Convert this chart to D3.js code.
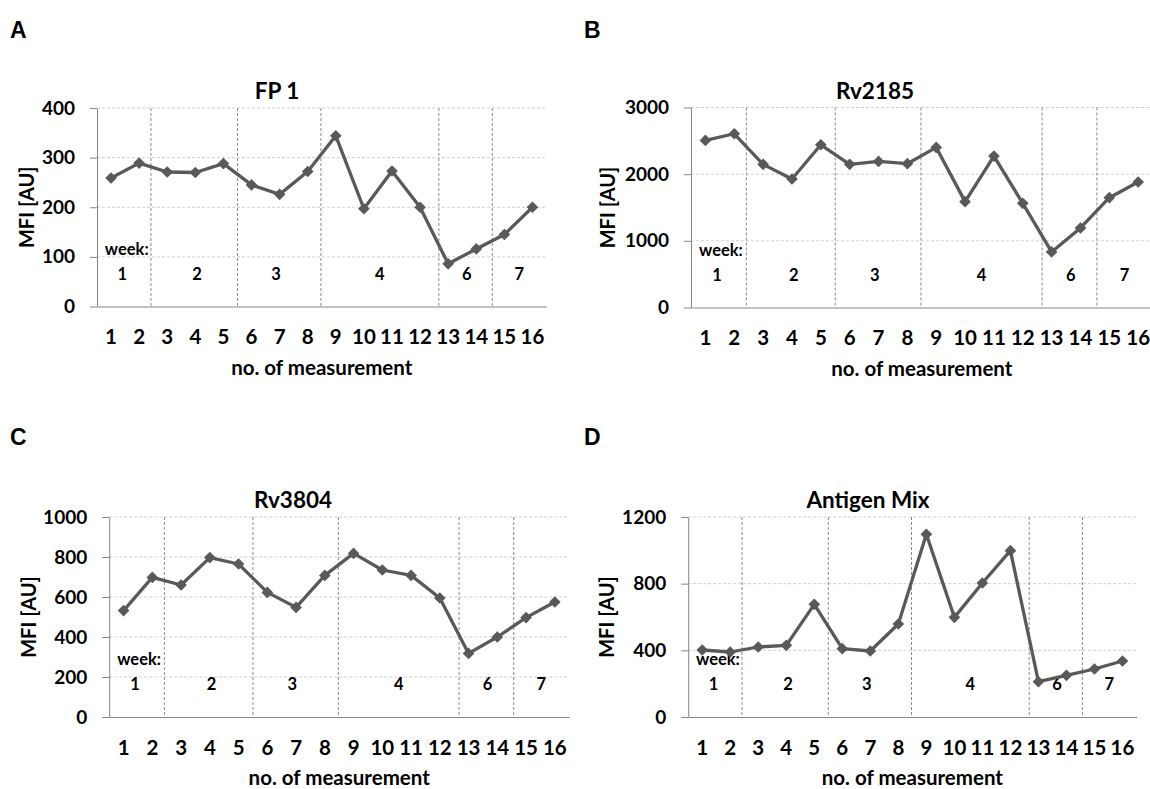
<!DOCTYPE html>
<html>
<head>
<meta charset="utf-8">
<script src="https://cdn.jsdelivr.net/npm/d3@7"></script>
<style>
body { margin: 0; background: #fff; }
text { font-family: Lato, "Open Sans", sans-serif; font-weight: bold; fill: #000; }
</style>
</head>
<body>
<svg width="1150" height="789"></svg>
<script>
// x categories (no. of measurement)
var measurements = ["1","2","3","4","5","6","7","8","9","10","11","12","13","14","15","16"];

// MFI values
var fp1 = [259, 289, 271, 270, 288, 245, 226, 272, 344, 197, 273, 200, 86, 116, 145, 200];
var rv2185 = [2506, 2606, 2147, 1927, 2441, 2147, 2191, 2157, 2401, 1588, 2271, 1563, 834, 1193, 1647, 1882];
var rv3804 = [532, 698, 660, 797, 765, 623, 548, 708, 818, 735, 708, 595, 318, 400, 497, 575];
var antigenMix = [402, 390, 420, 430, 676, 410, 396, 558, 1096, 598, 804, 998, 212, 250, 288, 336];

// week annotation, in units of measurement slots (0 = left edge of the plot)
var weekBreaks = [1.92, 5.0, 7.97, 12.17, 14.07];
var weekNames = ["1", "2", "3", "4", "6", "7"];
var weekCenters = [0.9, 3.56, 6.37, 10.07, 13.16, 15.03];

// panel layout, the data comes from the arrays above
var panels = [
	{ letter: "A", title: "FP 1", values: fp1, yMax: 400, yStep: 100,
	  left: 97, right: 546.5, top: 108, bottom: 306.5, titleX: 277, letterX: 10, letterY: 38, yLabelX: 26 },
	{ letter: "B", title: "Rv2185", values: rv2185, yMax: 3000, yStep: 1000,
	  left: 691, right: 1152.6, top: 107.5, bottom: 307.5, titleX: 875, letterX: 584, letterY: 38, yLabelX: 607 },
	{ letter: "C", title: "Rv3804", values: rv3804, yMax: 1000, yStep: 200,
	  left: 109.2, right: 569.2, top: 517, bottom: 717, titleX: 293, letterX: 10, letterY: 445, yLabelX: 27.5 },
	{ letter: "D", title: "Antigen Mix", values: antigenMix, yMax: 1200, yStep: 400,
	  left: 688.2, right: 1136.5, top: 517, bottom: 717, titleX: 868, letterX: 584, letterY: 445, yLabelX: 606 }
];

var axisColor = "#868686";
var lineColor = "#595959";

var svg = d3.select("svg");
svg.append("rect").attr("width", 1150).attr("height", 789).attr("fill", "#fff");

panels.forEach(drawPanel);

function drawPanel(p) {
	var g = svg.append("g");

	var x = d3.scaleBand().domain(measurements).range([p.left, p.right]);
	var xu = d3.scaleLinear().domain([0, measurements.length]).range([p.left, p.right]);
	var y = d3.scaleLinear().domain([0, p.yMax]).range([p.bottom, p.top]);
	var ticks = d3.range(0, p.yMax + 1, p.yStep);

	// horizontal dashed gridlines
	g.selectAll(".grid").data(ticks.slice(1)).enter().append("line")
		.attr("x1", p.left).attr("x2", p.right)
		.attr("y1", function(d) { return y(d); })
		.attr("y2", function(d) { return y(d); })
		.attr("stroke", "#cfcfcf")
		.attr("stroke-dasharray", "3,2");

	// week separators
	g.selectAll(".week").data(weekBreaks).enter().append("line")
		.attr("x1", function(d) { return xu(d); })
		.attr("x2", function(d) { return xu(d); })
		.attr("y1", p.top).attr("y2", p.bottom)
		.attr("stroke", "#8a8a8a")
		.attr("stroke-dasharray", "3,2");

	// y axis
	var yAxis = g.append("g")
		.attr("transform", "translate(" + p.left + ",0)")
		.call(d3.axisLeft(y).tickValues(ticks).tickFormat(d3.format("d"))
			.tickSize(7).tickSizeOuter(0).tickPadding(15));
	yAxis.selectAll("path, line").attr("stroke", axisColor);
	yAxis.selectAll("text").style("font-size", "19px");

	// x axis
	var xAxis = g.append("g")
		.attr("transform", "translate(0," + p.bottom + ")")
		.call(d3.axisBottom(x).tickSize(0).tickSizeOuter(0).tickPadding(23));
	xAxis.selectAll("path").attr("stroke", axisColor);
	xAxis.selectAll("text").style("font-size", "20.5px");

	// week labels
	g.append("text")
		.attr("x", xu(0.28))
		.attr("y", y(p.yMax * 0.29))
		.attr("dominant-baseline", "central")
		.style("font-size", "16.5px")
		.text("week:");
	g.selectAll(".wk").data(weekNames).enter().append("text")
		.attr("x", function(d, i) { return xu(weekCenters[i]); })
		.attr("y", y(p.yMax * 0.165))
		.attr("text-anchor", "middle")
		.attr("dominant-baseline", "central")
		.style("font-size", "16.5px")
		.text(function(d) { return d; });

	// series line and diamond markers
	var cx = function(d, i) { return x(measurements[i]) + x.bandwidth() / 2; };
	var line = d3.line().x(cx).y(function(d) { return y(d); });
	g.append("path")
		.datum(p.values)
		.attr("d", line)
		.attr("fill", "none")
		.attr("stroke", lineColor)
		.attr("stroke-width", 3.3)
		.attr("stroke-linejoin", "round");
	g.selectAll(".pt").data(p.values).enter().append("path")
		.attr("d", d3.symbol().type(d3.symbolSquare).size(68))
		.attr("transform", function(d, i) {
			return "translate(" + cx(d, i) + "," + y(d) + ") rotate(45)";
		})
		.attr("fill", lineColor);

	// titles
	g.append("text")
		.attr("x", p.titleX).attr("y", p.top - 9)
		.attr("text-anchor", "middle")
		.style("font-size", "22.5px")
		.text(p.title);
	g.append("text")
		.attr("x", (p.left + p.right) / 2).attr("y", p.bottom + 68)
		.attr("text-anchor", "middle")
		.style("font-size", "20.5px")
		.text("no. of measurement");
	g.append("text")
		.attr("transform", "translate(" + p.yLabelX + "," + (p.top + p.bottom) / 2 + ") rotate(-90)")
		.attr("text-anchor", "middle")
		.attr("dominant-baseline", "central")
		.style("font-size", "20px")
		.text("MFI [AU]");

	// panel letter
	g.append("text")
		.attr("x", p.letterX).attr("y", p.letterY)
		.style("font-family", "'Liberation Sans', Arial, sans-serif")
		.style("font-size", "23px")
		.text(p.letter);
}
</script>
</body>
</html>
